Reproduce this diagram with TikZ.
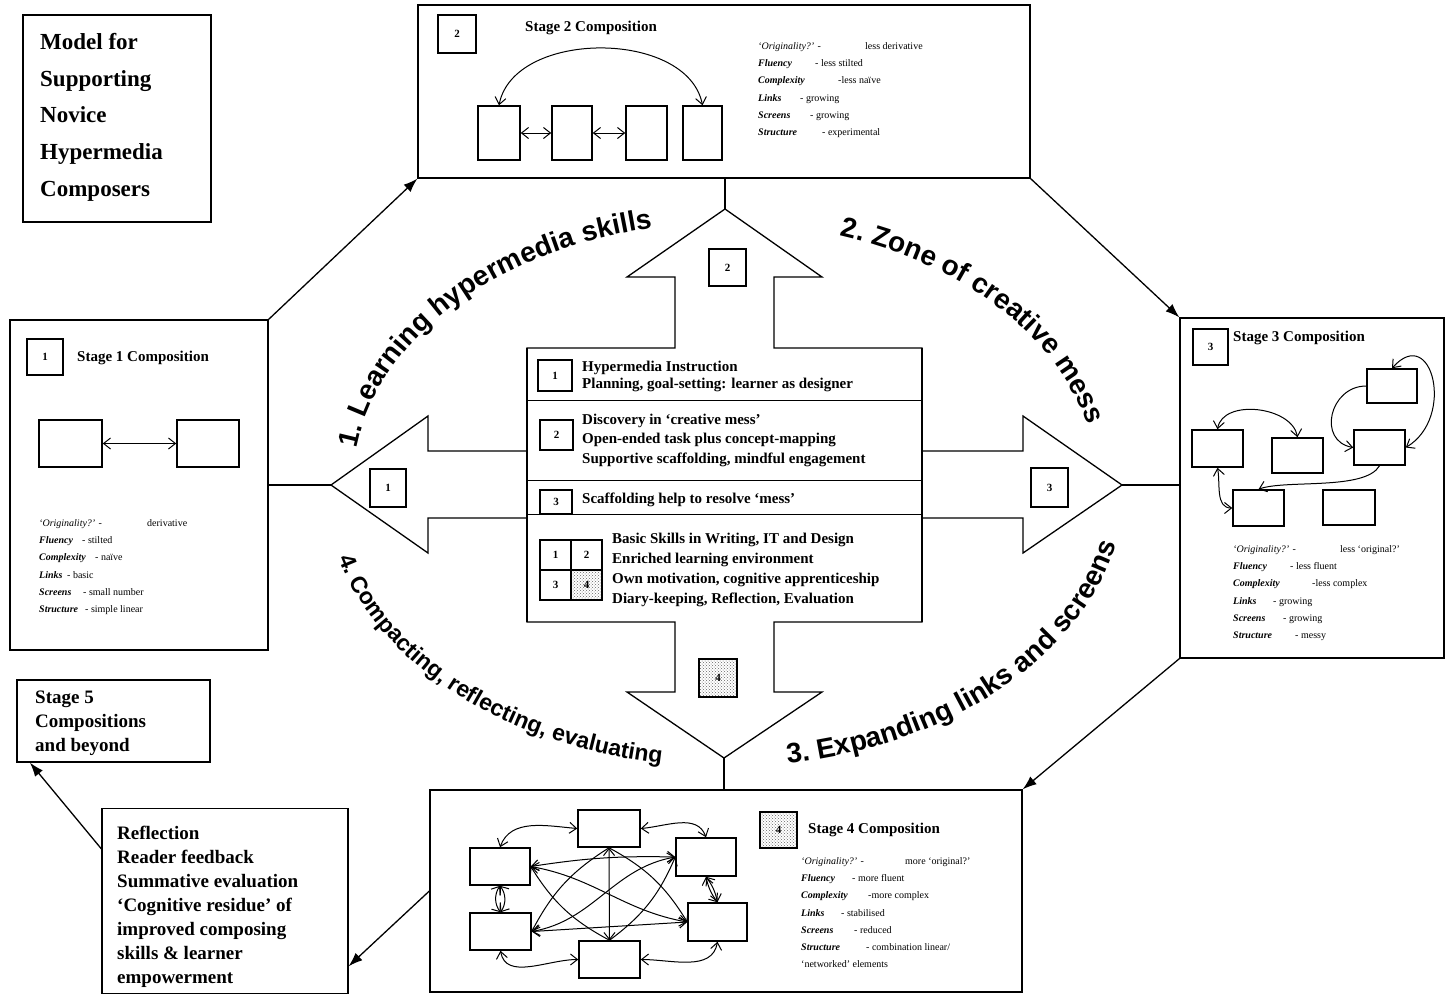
\documentclass[tikz,border=0pt]{standalone}
\usepackage{fontspec}
\setmainfont{Liberation Serif}
\newfontfamily\arcfont{Liberation Sans}
\usetikzlibrary{arrows.meta,calc,decorations.text,patterns}
\newcommand{\attrline}[3]{\makebox[#2][l]{#1}#3}
\newcommand{\crit}[1]{\textbf{\textit{#1}}}
\tikzset{
  frame/.style={draw, line width=1.3pt, inner sep=0pt},
  cell/.style={draw, line width=1.5pt, inner sep=0pt},
  numbox/.style={draw, line width=1.5pt, minimum width=36pt, minimum height=36pt,
    inner sep=0pt, font=\bfseries\fontsize{11}{11}\selectfont},
  dotted box/.style={pattern=crosshatch dots, pattern color=black!60},
  stagetitle/.style={anchor=west, inner sep=0pt, font=\bfseries\fontsize{15}{15}\selectfont},
  attrs/.style={anchor=north west, align=left, inner sep=0pt, font=\fontsize{10}{17.3}\selectfont},
  plan/.style={anchor=west, align=left, inner sep=0pt},
  bigtext/.style={anchor=north west, align=left, inner sep=0pt, font=\bfseries\fontsize{19}{24}\selectfont},
  link/.style={line width=1pt, {Straight Barb[length=7pt,width=11pt]}-{Straight Barb[length=7pt,width=11pt]}},
  onelink/.style={line width=1pt, -{Straight Barb[length=7pt,width=11pt]}},
  flow/.style={line width=1.3pt, -{Latex[length=14pt,width=10pt]}},
  arclabel/.style 2 args={decorate, decoration={text along path, text align=left,
    text={|\arcfont\bfseries\fontsize{#2}{#2}\selectfont|#1}}}
}

\begin{document}
\begin{tikzpicture}[x=1pt,y=1pt]
\fill[white] (0,0) rectangle (1445,-994);
\useasboundingbox (0,0) rectangle (1445,-994);

% title and outer boxes
\node[frame, minimum width=188pt, minimum height=207pt] (title) at (117,-118.5) {};
\node[anchor=north west, align=left, inner sep=0pt, font=\bfseries\fontsize{23}{36.7}\selectfont]
  at (40,-33) {Model for\\Supporting\\Novice\\Hypermedia\\Composers};
\node[frame, minimum width=258pt, minimum height=330pt] (s1) at (139,-485) {};
\node[frame, minimum width=612pt, minimum height=173pt] (s2) at (724,-91.5) {};
\node[frame, minimum width=264pt, minimum height=340pt] (s3) at (1312,-488) {};
\node[frame, minimum width=592pt, minimum height=202pt] (s4) at (726,-891) {};
\node[frame, minimum width=193pt, minimum height=82pt] (st5) at (113.5,-721) {};
\node[frame, minimum width=246pt, minimum height=185pt] (refl) at (225,-901) {};
\node[bigtext] at (35,-691) {Stage 5\\Compositions\\and beyond};
\node[bigtext] at (117,-826) {Reflection\\Reader feedback\\Summative evaluation\\`Cognitive residue' of\\improved composing\\skills \& learner\\empowerment};

% the cross of four arrows
\coordinate (hub) at (725,-485);
\coordinate (tipN) at (725,-209);
\coordinate (tipE) at (1122,-485);
\coordinate (tipS) at (724,-758);
\coordinate (tipW) at (331,-485);
\draw[line width=1.3pt] (tipN) -- (822,-277) -- (774,-277) -- (774,-348) -- (922,-348)
  -- (922,-451) -- (1023,-451) -- (1023,-416) -- (tipE) -- (1023,-553) -- (1023,-518)
  -- (922,-518) -- (922,-622) -- (774,-622) -- (774,-692) -- (822,-692) -- (tipS)
  -- (627,-692) -- (675,-692) -- (675,-622) -- (527,-622) -- (527,-518) -- (428,-518)
  -- (428,-553) -- (tipW) -- (428,-416) -- (428,-451) -- (527,-451) -- (527,-348)
  -- (675,-348) -- (675,-277) -- (627,-277) -- cycle;
\draw[line width=1.3pt] (527,-348) -- (527,-622) (922,-348) -- (922,-622);
\foreach \y in {400,480,514}
  \draw[line width=1pt] (527,-\y) -- (922,-\y);
\draw[line width=1.3pt] (tipN) -- (tipN |- s2.south);
\draw[line width=1.3pt] (tipW) -- (tipW -| s1.east);
\draw[line width=1.3pt] (tipE) -- (tipE -| s3.west);
\draw[line width=1.3pt] (tipS) -- (tipS |- s4.north);
\node[numbox, minimum width=37pt, minimum height=37pt] (a2) at (727.5,-267.5) {2};
\node[numbox, minimum width=36pt, minimum height=38pt] (a1) at (388,-488) {1};
\node[numbox, minimum width=37pt, minimum height=39pt] (a3) at (1049.5,-487.5) {3};
\node[numbox, dotted box, minimum width=38pt, minimum height=38pt] (a4) at (718,-678) {4};

% centre panel
\node[numbox, minimum width=34pt, minimum height=31pt] (p1) at (555,-375.5) {1};
\node[numbox, minimum width=33pt, minimum height=30pt] (p2) at (556.5,-435) {2};
\node[numbox, minimum width=32pt, minimum height=24pt] (p3) at (556,-502) {3};
\node[numbox, minimum width=31pt, minimum height=30pt] (g1) at (555.5,-555) {1};
\node[numbox, minimum width=31pt, minimum height=30pt] (g2) at (586.5,-555) {2};
\node[numbox, minimum width=31pt, minimum height=30pt] (g3) at (555.5,-585) {3};
\node[numbox, dotted box, minimum width=31pt, minimum height=30pt] (g4) at (586.5,-585) {4};
\node[plan, font=\bfseries\fontsize{15}{17}\selectfont] at (582,-376.5)
  {Hypermedia Instruction\\Planning, goal-setting: learner as designer};
\node[plan, font=\bfseries\fontsize{15}{19.5}\selectfont] at (582,-440)
  {Discovery in `creative mess'\\Open-ended task plus concept-mapping\\Supportive scaffolding, mindful engagement};
\node[plan, font=\bfseries\fontsize{15}{20}\selectfont] at (582,-500)
  {Scaffolding help to resolve `mess'};
\node[plan, font=\bfseries\fontsize{15}{20}\selectfont] at (612,-570)
  {Basic Skills in Writing, IT and Design\\Enriched learning environment\\Own motivation, cognitive apprenticeship\\Diary-keeping, Reflection, Evaluation};

% curved phase labels
\path[arclabel={1. Learning hypermedia skills}{28}]
  ($(hub)+(172:372 and 262)$) arc[start angle=172, end angle=40, x radius=372, y radius=262];
\path[arclabel={2. Zone of creative mess}{28}]
  ($(hub)+(72:372 and 262)$) arc[start angle=72, end angle=-60, x radius=372, y radius=262];
\path[arclabel={3. Expanding links and screens}{28}]
  ($(hub)+(279:400 and 282)$) arc[start angle=279, end angle=400, x radius=400, y radius=282];
\path[arclabel={4. Compacting, reflecting, evaluating}{23}]
  ($(hub)+(195:400 and 282)$) arc[start angle=195, end angle=300, x radius=400, y radius=282];

% stage 1
\node[numbox] (n1) at (45,-357) {1};
\node[stagetitle] at (77,-358) {Stage 1 Composition};
\node[cell, minimum width=63pt, minimum height=47pt] (b11) at (70.5,-443.5) {};
\node[cell, minimum width=62pt, minimum height=47pt] (b12) at (208,-443.5) {};
\draw[link] (b11) -- (b12);
\node[attrs] at (39,-519) {%
  \attrline{\textit{`Originality?'} -}{108pt}{derivative}\\
  \attrline{\crit{Fluency}}{43pt}{- stilted}\\
  \attrline{\crit{Complexity}}{56pt}{- naïve}\\
  \attrline{\crit{Links}}{28pt}{- basic}\\
  \attrline{\crit{Screens}}{44pt}{- small number}\\
  \attrline{\crit{Structure}}{46pt}{- simple linear}};

% stage 2
\node[numbox, minimum width=38pt, minimum height=38pt] (n2) at (457,-34) {2};
\node[stagetitle] at (525,-28) {Stage 2 Composition};
\node[cell, minimum width=42pt, minimum height=54pt] (b21) at (499,-133) {};
\node[cell, minimum width=40pt, minimum height=54pt] (b22) at (572,-133) {};
\node[cell, minimum width=41pt, minimum height=54pt] (b23) at (646.5,-133) {};
\node[cell, minimum width=39pt, minimum height=54pt] (b24) at (702.5,-133) {};
\draw[link] (b21) -- (b22);
\draw[link] (b22) -- (b23);
\draw[link] (b21.north) .. controls +(15,76) and +(-15,76) .. (b24.north);
\node[attrs] at (758,-42) {%
  \attrline{\textit{`Originality?'} -}{107pt}{less derivative}\\
  \attrline{\crit{Fluency}}{57pt}{- less stilted}\\
  \attrline{\crit{Complexity}}{80pt}{-less naïve}\\
  \attrline{\crit{Links}}{42pt}{- growing}\\
  \attrline{\crit{Screens}}{52pt}{- growing}\\
  \attrline{\crit{Structure}}{64pt}{- experimental}};

% stage 3
\node[numbox, minimum width=35pt, minimum height=36pt] (n3) at (1210.5,-347) {3};
\node[stagetitle] at (1233,-338) {Stage 3 Composition};
\node[cell, minimum width=51pt, minimum height=37pt] (b31) at (1217.5,-448.5) {};
\node[cell, minimum width=51pt, minimum height=35pt] (b32) at (1297.5,-455.5) {};
\node[cell, minimum width=50pt, minimum height=34pt] (b33) at (1392,-386) {};
\node[cell, minimum width=51pt, minimum height=35pt] (b34) at (1379.5,-447.5) {};
\node[cell, minimum width=51pt, minimum height=36pt] (b35) at (1258.5,-508) {};
\node[cell, minimum width=52pt, minimum height=35pt] (b36) at (1349,-507.5) {};
\draw[link] (b31.north) to[out=80, in=100] (b32.north);
\draw[onelink] (b33.west) to[out=180, in=170, looseness=1.5] (b34.west);
\draw[link] (b34.east) .. controls +(50,30) and +(40,45) .. (b33.north);
\draw[onelink] (b34.south) to[out=-120, in=20, looseness=0.6] (b35.north);
\draw[link] (b31.south) to[out=-80, in=180] (b35.west);
\node[attrs] at (1233,-545) {%
  \attrline{\textit{`Originality?'} -}{107pt}{less `original?'}\\
  \attrline{\crit{Fluency}}{57pt}{- less fluent}\\
  \attrline{\crit{Complexity}}{79pt}{-less complex}\\
  \attrline{\crit{Links}}{40pt}{- growing}\\
  \attrline{\crit{Screens}}{50pt}{- growing}\\
  \attrline{\crit{Structure}}{62pt}{- messy}};

% stage 4
\node[numbox, dotted box, minimum width=37pt, minimum height=36pt] (n4) at (778.5,-830) {4};
\node[stagetitle] at (808,-830) {Stage 4 Composition};
\node[cell, minimum width=62pt, minimum height=37pt] (b41) at (609,-828.5) {};
\node[cell, minimum width=60pt, minimum height=37pt] (b42) at (500,-866.5) {};
\node[cell, minimum width=60pt, minimum height=38pt] (b43) at (706,-857) {};
\node[cell, minimum width=61pt, minimum height=37pt] (b44) at (500.5,-931.5) {};
\node[cell, minimum width=59pt, minimum height=38pt] (b45) at (717.5,-922) {};
\node[cell, minimum width=61pt, minimum height=37pt] (b46) at (609.5,-959.5) {};
\draw[link] (b41.west) to[out=175, in=70] (b42.north);
\draw[link] (b41.east) to[out=5, in=110] (b43.north);
\draw[link] (b43.south) to[bend left=12] (b45.north);
\draw[link] (b43.south) to[bend right=12] (b45.north);
\draw[link] (b45.south) to[out=-100, in=0] (b46.east);
\draw[link] (b46.west) to[out=180, in=-80] (b44.south);
\draw[link] (b42.south) to[bend left=35] (b44.north);
\draw[link] (b42.south) to[bend right=35] (b44.north);
\draw[link] (b42.east) to[bend left=5] (b43.west);
\draw[link] (b42.east) to[out=-10, in=170] (b45.west);
\draw[link] (b44.east) to[out=10, in=-170] (b43.west);
\draw[link] (b44.east) -- (b45.west);
\draw[link] (b41.south) -- (b46.north);
\draw[onelink] (b41.south) to[bend right=15] (b44.east);
\draw[onelink] (b41.south) to[bend left=15] (b45.west);
\draw[onelink] (b46.north) to[bend left=15] (b42.east);
\draw[onelink] (b46.north) to[bend right=15] (b43.west);
\node[attrs] at (801,-857) {%
  \attrline{\textit{`Originality?'} -}{104pt}{more `original?'}\\
  \attrline{\crit{Fluency}}{51pt}{- more fluent}\\
  \attrline{\crit{Complexity}}{67pt}{-more complex}\\
  \attrline{\crit{Links}}{40pt}{- stabilised}\\
  \attrline{\crit{Screens}}{53pt}{- reduced}\\
  \attrline{\crit{Structure}}{65pt}{- combination linear/}\\
  `networked' elements};

% progression between stages
\draw[flow] (s1.north east) -- (s2.south west);
\draw[flow] (s2.south east) -- (s3.north west);
\draw[flow] (s3.south west) -- (s4.north east);
\draw[flow] (s4.west) -- ($(refl.north east)!0.85!(refl.south east)$);
\draw[flow] ($(refl.north west)!0.22!(refl.south west)$) -- ($(st5.south west)!0.07!(st5.south east)$);
\end{tikzpicture}
\end{document}
